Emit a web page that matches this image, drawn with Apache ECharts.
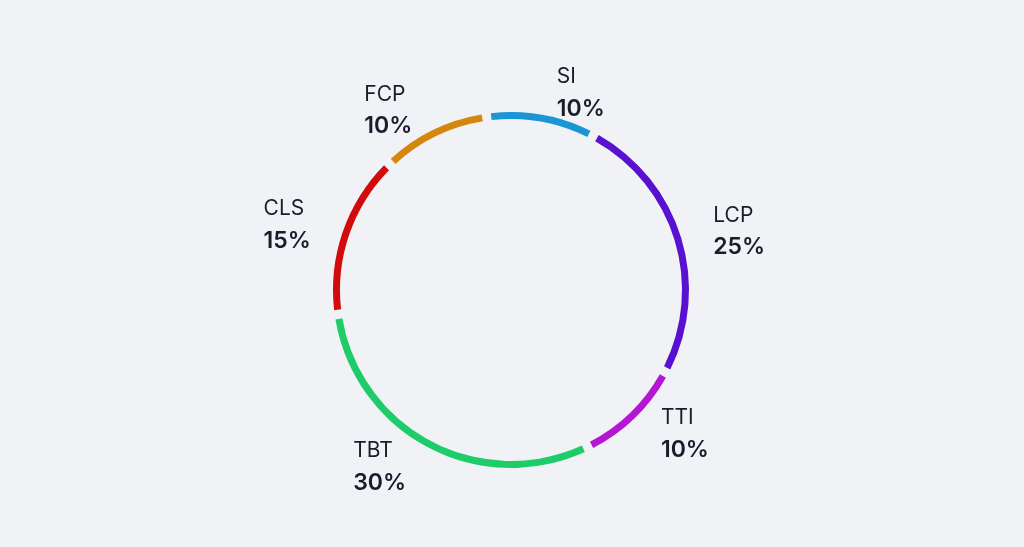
<!DOCTYPE html>
<html>
<head>
<meta charset="utf-8">
<script src="https://cdn.jsdelivr.net/npm/echarts@6/dist/echarts.min.js"></script>
<style>
  html, body { margin: 0; padding: 0; background: #f1f2f6; }
  #chart { width: 1024px; height: 547px; }
</style>
</head>
<body>
<div id="chart"></div>
<script>
  // metric weights
  var names = ['SI', 'LCP', 'TTI', 'TBT', 'CLS', 'FCP'];
  var values = [10, 25, 10, 30, 15, 10];
  var colors = ['#1a96d4', '#5a10d0', '#b516d4', '#1ecd6a', '#d10b0b', '#d4870c'];

  var data = [];
  for (var i = 0; i < names.length; i++) {
    data.push({ name: names[i], value: values[i], itemStyle: { color: colors[i] } });
  }

  var myChart = echarts.init(document.getElementById('chart'));
  myChart.setOption({
    backgroundColor: '#f1f2f6',
    animation: false,
    series: [{
      type: 'pie',
      center: [511, 290],
      radius: [171, 178],
      startAngle: 98,
      padAngle: 3,
      data: data,
      label: {
        show: true,
        position: 'outside',
        formatter: function (p) { return '{n|' + p.name + '}\n{v|' + p.value + '%}'; },
        rich: {
          n: { fontFamily: 'Inter', fontSize: 21, color: '#1b1b2b', lineHeight: 32, align: 'left' },
          v: { fontFamily: 'Inter', fontSize: 23, fontWeight: 600, color: '#1b1b2b', lineHeight: 32, align: 'left' }
        }
      },
      labelLine: { show: false, length: 22, length2: 6 }
    }]
  });
</script>
</body>
</html>
